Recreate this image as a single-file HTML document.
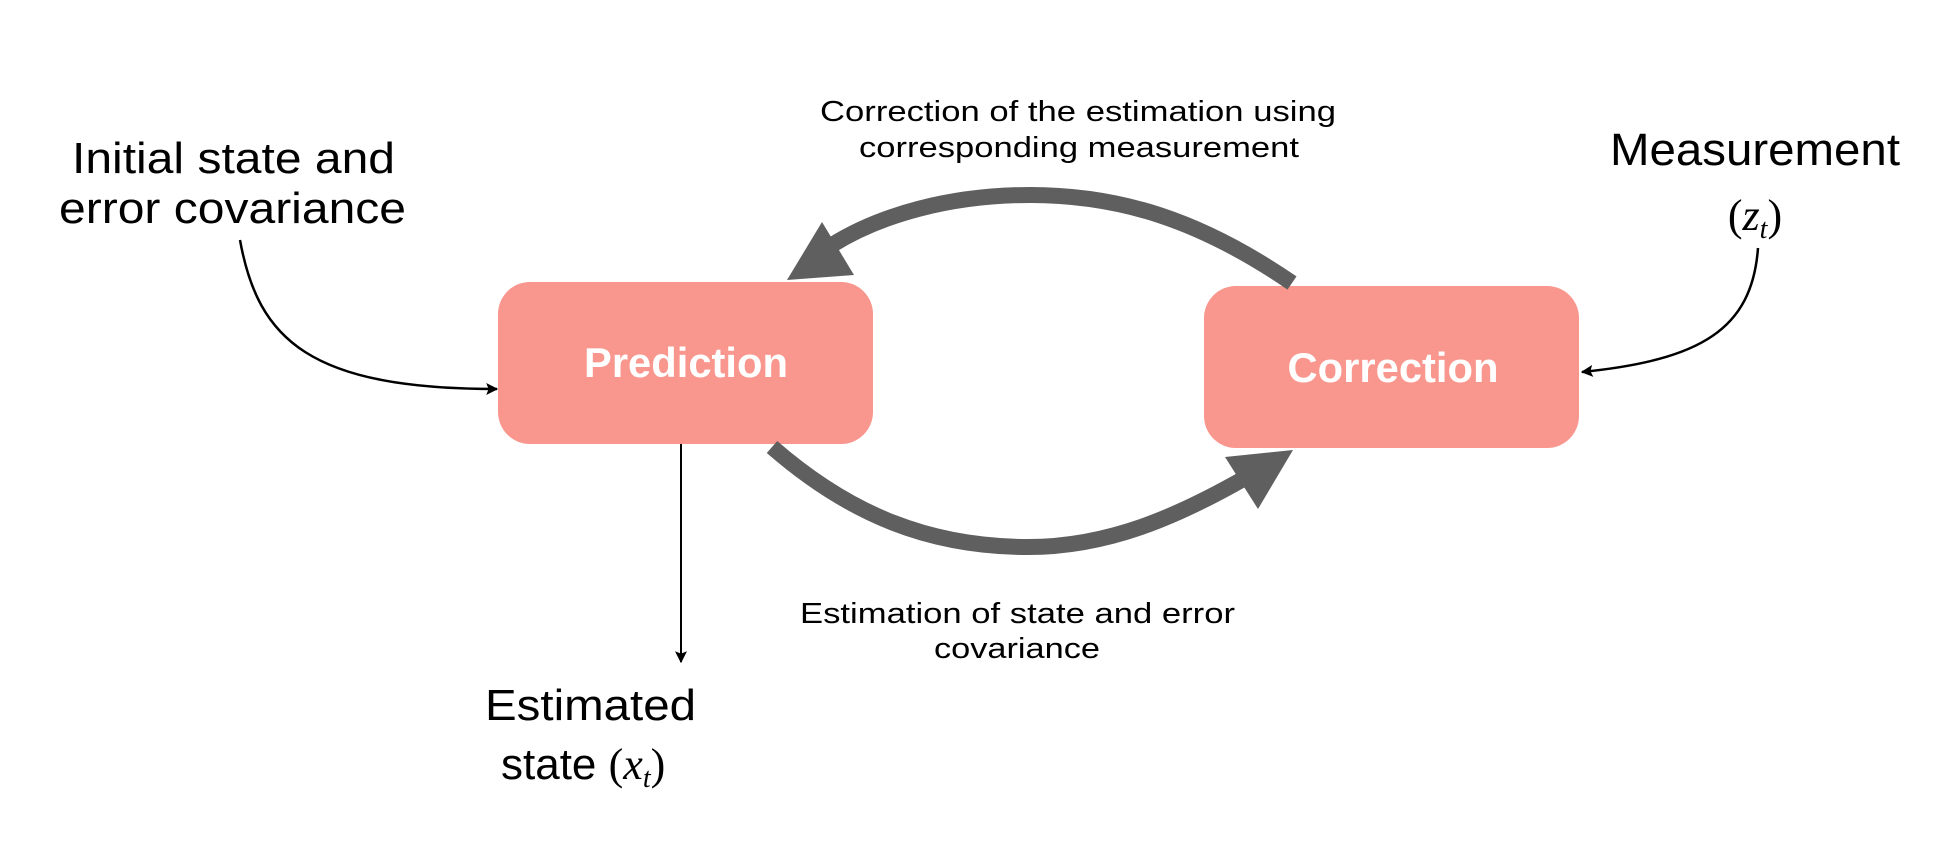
<!DOCTYPE html>
<html><head><meta charset="utf-8"><style>
html,body{margin:0;padding:0;background:#fff}
svg{display:block}
</style></head><body>
<svg width="1958" height="850" viewBox="0 0 1958 850" xmlns="http://www.w3.org/2000/svg">
<defs>
<marker id="ah" viewBox="0 0 10 10" refX="9" refY="5" markerWidth="13" markerHeight="12" orient="auto" markerUnits="userSpaceOnUse">
<path d="M0,0 L10,5 L0,10 L2,5 z" fill="#000"/>
</marker>
</defs>
<rect x="498" y="282" width="375" height="162" rx="32" fill="#F9978E"/>
<rect x="1204" y="286" width="375" height="162" rx="32" fill="#F9978E"/>
<text x="686" y="377" font-family="Liberation Sans, sans-serif" font-weight="bold" font-size="42" fill="#fff" text-anchor="middle" textLength="204" lengthAdjust="spacingAndGlyphs">Prediction</text>
<text x="1393" y="382" font-family="Liberation Sans, sans-serif" font-weight="bold" font-size="42" fill="#fff" text-anchor="middle" textLength="211" lengthAdjust="spacingAndGlyphs">Correction</text>

<path d="M1292,283 C1200,220 1120,195 1030,195 C950,195 880,215 832,245" fill="none" stroke="#5f5f5f" stroke-width="16"/>
<polygon points="787,280 822,222 854,275" fill="#5f5f5f"/>
<path d="M772,447 C850,515 930,547 1028,547 C1110,547 1180,515 1245,478" fill="none" stroke="#5f5f5f" stroke-width="16"/>
<polygon points="1293,450 1225,457 1258,509" fill="#5f5f5f"/>

<path d="M240,240 C258,340 310,389 497,389" fill="none" stroke="#000" stroke-width="2.5" marker-end="url(#ah)"/>
<path d="M1758,248 C1752,330 1700,360 1582,372" fill="none" stroke="#000" stroke-width="2.5" marker-end="url(#ah)"/>
<path d="M681,444 L681,662" fill="none" stroke="#000" stroke-width="2" marker-end="url(#ah)"/>

<g font-family="Liberation Sans, sans-serif" fill="#000">
<text x="72" y="173" font-size="44" textLength="323" lengthAdjust="spacingAndGlyphs">Initial state and</text>
<text x="59" y="223" font-size="44" textLength="347" lengthAdjust="spacingAndGlyphs">error covariance</text>
<text x="1610" y="165" font-size="45" textLength="290" lengthAdjust="spacingAndGlyphs">Measurement</text>
<text x="1755" y="230" font-size="44" text-anchor="middle"><tspan font-family="Liberation Serif, serif">(</tspan><tspan font-family="Liberation Serif, serif" font-style="italic">z</tspan><tspan font-family="Liberation Serif, serif" font-style="italic" font-size="28" dy="8">t</tspan><tspan font-family="Liberation Serif, serif" dy="-8">)</tspan></text>
<text x="820" y="121" font-size="29" textLength="516" lengthAdjust="spacingAndGlyphs">Correction of the estimation using</text>
<text x="859" y="157" font-size="29" textLength="440" lengthAdjust="spacingAndGlyphs">corresponding measurement</text>
<text x="800" y="623" font-size="29" textLength="435" lengthAdjust="spacingAndGlyphs">Estimation of state and error</text>
<text x="934" y="658" font-size="29" textLength="166" lengthAdjust="spacingAndGlyphs">covariance</text>
<text x="485" y="720" font-size="44" textLength="211" lengthAdjust="spacingAndGlyphs">Estimated</text>
<text x="501" y="779" font-size="44"><tspan>state </tspan><tspan font-family="Liberation Serif, serif">(</tspan><tspan font-family="Liberation Serif, serif" font-style="italic">x</tspan><tspan font-family="Liberation Serif, serif" font-style="italic" font-size="28" dy="8">t</tspan><tspan font-family="Liberation Serif, serif" dy="-8">)</tspan></text>
</g>
</svg>
</body></html>
